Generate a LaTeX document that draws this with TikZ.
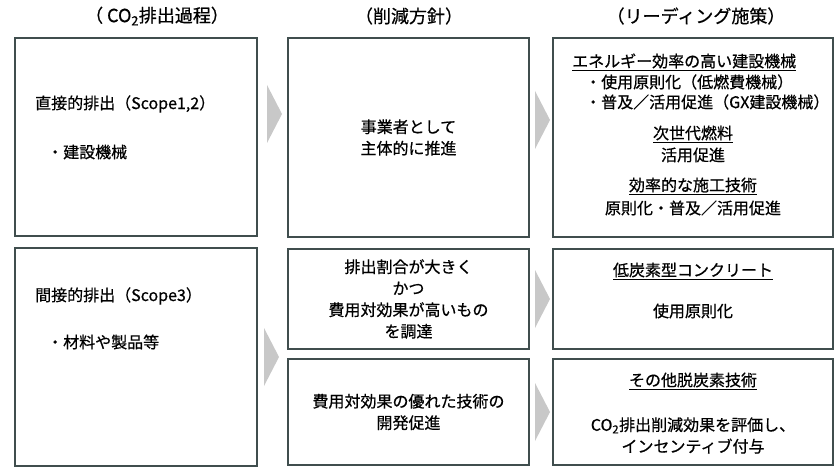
\documentclass[tikz,border=0pt]{standalone}
\usepackage{fontspec}
\newfontfamily\jpfont[FakeBold=0.6]{Noto Sans CJK JP}
\definecolor{boxline}{RGB}{64,78,78}
\definecolor{arrfill}{RGB}{200,200,200}

\begin{document}
\begin{tikzpicture}
[%%%%%%%%%%%%%%%%%%%%%%%%%%%%%%
x=1pt,y=-1pt,
box/.style={rectangle,draw=boxline,line width=1.5pt,inner sep=0pt},
txt/.style={font=\jpfont\fontsize{16}{21.5}\selectfont,inner sep=0pt},
head/.style={font=\jpfont\fontsize{18}{22}\selectfont,inner sep=0pt},
chev/.style={fill=arrfill},
]%%%%%%%%%%%%%%%%%%%%%%%%%%%%%%

\useasboundingbox[fill=white] (0,0) rectangle (840,470);

% headers
\node[head] (hsrc) at (157,16) {（ CO\textsubscript{2}排出過程）};
\node[head] (hpol) at (409,16) {（削減方針）};
\node[head] (hlead) at (696,16) {（リーディング施策）};

% arrows
\foreach \x/\y in {267/114,535/120,264/357,535/299,535/412}
\fill[chev] (\x,\y-29) -- ++(15,29) -- ++(-15,29) -- cycle;

% left column
\node[box,minimum width=242pt,minimum height=198pt] (direct) at (136,137) {};
\node[txt,anchor=west] (directtitle) at (35,104) {直接的排出（Scope1,2）};
\node[txt,anchor=west] (directitem) at (47,152) {・建設機械};

\node[box,minimum width=242pt,minimum height=218pt] (indirect) at (136,357) {};
\node[txt,anchor=west] (indirecttitle) at (35,296) {間接的排出（Scope3）};
\node[txt,anchor=west] (indirectitem) at (47,342) {・材料や製品等};

% middle column
\node[box,txt,align=center,minimum width=241pt,minimum height=199pt] (pol1) at (408.5,137.5)
{事業者として\\主体的に推進};
\node[box,txt,align=center,minimum width=241pt,minimum height=100pt] (pol2) at (408.5,299)
{排出割合が大きく\\かつ\\費用対効果が高いもの\\を調達};
\node[box,txt,align=center,minimum width=241pt,minimum height=106pt] (pol3) at (408.5,412)
{費用対効果の優れた技術の\\開発促進};

% right column
\node[box,minimum width=280pt,minimum height=199pt] (lead1) at (693,137.5) {};
\node[txt,anchor=west] (machine) at (572,62) {\underline{エネルギー効率の高い建設機械}};
\node[txt,anchor=west] (machinea) at (585,82) {・使用原則化（低燃費機械）};
\node[txt,anchor=west] (machineb) at (585,102) {・普及／活用促進（GX建設機械）};
\node[txt] (fuel) at (693,134) {\underline{次世代燃料}};
\node[txt] (fuela) at (693,155) {活用促進};
\node[txt] (method) at (693,186) {\underline{効率的な施工技術}};
\node[txt] (methoda) at (693,208) {原則化・普及／活用促進};

\node[box,minimum width=280pt,minimum height=100pt] (lead2) at (693,299) {};
\node[txt] (concrete) at (693,271) {\underline{低炭素型コンクリート}};
\node[txt] (concretea) at (693,311) {使用原則化};

\node[box,minimum width=280pt,minimum height=106pt] (lead3) at (693,412) {};
\node[txt] (other) at (693,381) {\underline{その他脱炭素技術}};
\node[txt,align=center] (othera) at (693,435.5)
{CO\textsubscript{2}排出削減効果を評価し、\\インセンティブ付与};
\end{tikzpicture}
\end{document}
